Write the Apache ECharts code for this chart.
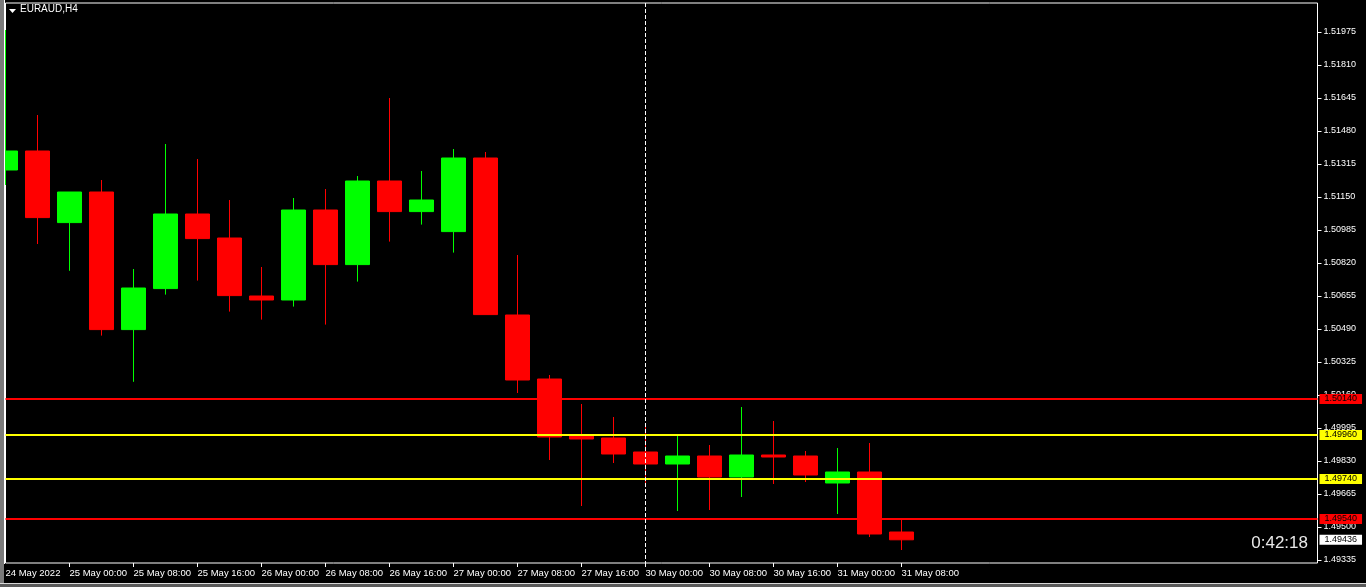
<!DOCTYPE html>
<html>
<head>
<meta charset="utf-8">
<script src="https://cdn.jsdelivr.net/npm/echarts@6/dist/echarts.min.js"></script>
<style>
html,body{margin:0;padding:0;background:#000;}
#chart{width:1366px;height:587px;}
</style>
</head>
<body>
<div id="chart"></div>
<script>
// H4 bar times
const categories = [
  '24 May 16:00','24 May 20:00',
  '25 May 00:00','25 May 04:00','25 May 08:00','25 May 12:00','25 May 16:00','25 May 20:00',
  '26 May 00:00','26 May 04:00','26 May 08:00','26 May 12:00','26 May 16:00','26 May 20:00',
  '27 May 00:00','27 May 04:00','27 May 08:00','27 May 12:00','27 May 16:00','27 May 20:00',
  '30 May 00:00','30 May 04:00','30 May 08:00','30 May 12:00','30 May 16:00','30 May 20:00',
  '31 May 00:00','31 May 04:00','31 May 08:00'
];
const emptySlots = 13; // chart shift space on the right
const firstLabel = '24 May 2022';

// OHLC values
const opens  = [1.51285,1.51380,1.51022,1.51175,1.50487,1.50692,1.51065,1.50945,1.50655,1.50635,
                1.51085,1.50812,1.51230,1.51077,1.50977,1.51345,1.50560,1.50240,1.49960,1.49945,
                1.49875,1.49815,1.49855,1.49750,1.49860,1.49855,1.49720,1.49775,1.49475];
const closes = [1.51380,1.51047,1.51175,1.50487,1.50695,1.51065,1.50942,1.50657,1.50635,1.51085,
                1.50812,1.51230,1.51077,1.51135,1.51345,1.50562,1.50235,1.49950,1.49940,1.49865,
                1.49815,1.49855,1.49750,1.49860,1.49850,1.49760,1.49775,1.49465,1.49436];
const highs  = [1.51985,1.51560,1.51175,1.51235,1.50790,1.51415,1.51340,1.51135,1.50800,1.51145,
                1.51190,1.51255,1.51645,1.51280,1.51390,1.51375,1.50860,1.50260,1.50115,1.50050,
                1.50005,1.49960,1.49910,1.50100,1.50030,1.49880,1.49895,1.49920,1.49535];
const lows   = [1.51210,1.50915,1.50781,1.50457,1.50226,1.50662,1.50732,1.50577,1.50537,1.50602,
                1.50512,1.50727,1.50927,1.51012,1.50872,1.50562,1.50170,1.49835,1.49605,1.49820,
                1.49715,1.49580,1.49585,1.49650,1.49715,1.49725,1.49565,1.49450,1.49385];

// horizontal levels
const levelValues = [1.50140, 1.49960, 1.49740, 1.49540];
const levelColors = ['#ff0000', '#ffff00', '#ffff00', '#ff0000'];
const currentPrice = 1.49436;
const separatorAt = '30 May 00:00';

// price axis
const yMin = 1.4932, yMax = 1.5212;
const yTicks = [1.49335,1.49500,1.49665,1.49830,1.49995,1.50160,1.50325,1.50490,1.50655,
                1.50820,1.50985,1.51150,1.51315,1.51480,1.51645,1.51810,1.51975];
const timerText = '0:42:18';
const titleText = 'EURAUD,H4';

const xData = categories.concat(Array.from({length: emptySlots}, (_, i) => ' '.repeat(i + 1)));
const lastIdx = xData.length - 1;
const candleData = opens.map((o, i) => [o, closes[i], lows[i], highs[i]]);

const FONT = 'Liberation Sans';
const chart = echarts.init(document.getElementById('chart'), null, {renderer: 'canvas'});

function priceLabel(v, bg) {
  return {
    show: true, position: 'end', distance: 2,
    formatter: v.toFixed(5),
    color: '#000', backgroundColor: bg,
    fontFamily: FONT, fontSize: 9, lineHeight: 10, padding: [0, 5, 0, 5]
  };
}

const markLines = levelValues.map((v, i) => [
  {coord: [0, v], lineStyle: {color: levelColors[i], width: 2, type: 'solid'}, label: priceLabel(v, levelColors[i])},
  {coord: [lastIdx, v]}
]);
markLines.push([
  {coord: [lastIdx - 1, currentPrice], lineStyle: {color: 'rgba(0,0,0,0)', width: 1}, label: priceLabel(currentPrice, '#ffffff')},
  {coord: [lastIdx, currentPrice]}
]);
markLines.push([
  {coord: [separatorAt, yMax], lineStyle: {color: '#ffffff', width: 1, type: [4, 2]}, label: {show: false}},
  {coord: [separatorAt, yMin]}
]);

const option = {
  backgroundColor: '#000',
  animation: false,
  grid: {
    left: 5.5, right: 48.5, top: 3, bottom: 24,
    show: true, borderColor: '#ffffff', borderWidth: 1, backgroundColor: '#000'
  },
  xAxis: {
    type: 'category',
    data: xData,
    boundaryGap: false,
    axisLine: {show: false},
    axisTick: {
      show: true, inside: false, length: 4,
      lineStyle: {color: '#fff'},
      interval: (idx) => idx % 2 === 0 && idx > 0 && idx < categories.length
    },
    axisLabel: {
      show: true,
      interval: (idx) => idx % 2 === 0 && idx < categories.length,
      formatter: (val, idx) => idx === 0 ? firstLabel : val,
      color: '#ffffff', fontFamily: FONT, fontSize: 9.5,
      align: 'left', margin: 5
    },
    splitLine: {show: false}
  },
  yAxis: {
    type: 'value',
    position: 'right',
    min: yMin, max: yMax,
    scale: true,
    axisLine: {show: false},
    axisTick: {show: true, length: 4, lineStyle: {color: '#fff'}, customValues: yTicks},
    axisLabel: {
      show: true, customValues: yTicks,
      formatter: (v) => v.toFixed(5),
      color: '#ffffff', fontFamily: FONT, fontSize: 9, margin: 6
    },
    splitLine: {show: false}
  },
  series: [{
    type: 'candlestick',
    data: candleData,
    barWidth: 24,
    clip: true,
    itemStyle: {
      color: '#00ff00', color0: '#ff0000',
      borderColor: '#00ff00', borderColor0: '#ff0000', borderWidth: 1
    },
    markLine: {
      silent: true, symbol: 'none', animation: false,
      data: markLines
    }
  }],
  graphic: [
    {type: 'rect', left: 0, top: 0, z: 100, shape: {width: 4, height: 587}, style: {fill: '#7a7a7a'}, silent: true},
    {type: 'rect', left: 4, top: 0, z: 100, shape: {width: 1, height: 564}, style: {fill: '#ffffff'}, silent: true},
    {type: 'rect', left: 0, top: 583, z: 100, shape: {width: 1366, height: 1}, style: {fill: '#d8d8d8'}, silent: true},
    {type: 'rect', left: 0, top: 584, z: 100, shape: {width: 1366, height: 3}, style: {fill: '#5a5a5a'}, silent: true},
    {type: 'polygon', z: 100, shape: {points: [[9, 9], [16, 9], [12.5, 13]]}, style: {fill: '#ffffff'}, silent: true},
    {type: 'text', left: 20, top: 4, z: 100, style: {text: titleText, fill: '#ffffff', font: '10px "Liberation Sans"'}, silent: true},
    {type: 'text', right: 58, top: 535, z: 100, style: {text: timerText, fill: '#e8e8e8', font: '17px "Liberation Sans"'}, silent: true}
  ]
};
chart.setOption(option);
</script>
</body>
</html>
